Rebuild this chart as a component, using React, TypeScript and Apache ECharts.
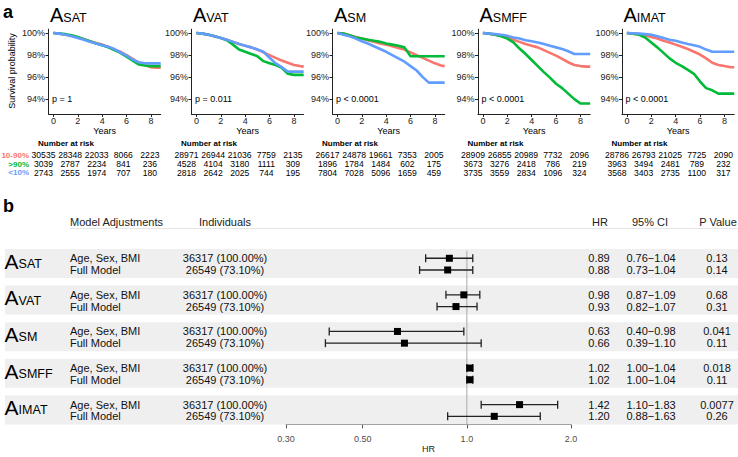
import React, { useEffect, useRef } from 'react';
import * as echarts from 'echarts';

const FONT = '"Liberation Sans", Arial, Helvetica, sans-serif';

// ---------------- Panel a: Kaplan-Meier curves ----------------
const kmTimes = [0, 0.5, 1, 1.5, 2, 2.5, 3, 3.5, 4, 4.5, 5, 5.5, 6, 6.5, 7, 7.5, 8, 8.5, 8.8];
const groupLabels = ['10-90%', '>90%', '<10%'];
const groupColors = ['#F8766D', '#00BA38', '#619CFF'];
const compartments = ['SAT', 'VAT', 'SM', 'SMFF', 'IMAT'];
const logRankP = ['p = 1', 'p = 0.011', 'p < 0.0001', 'p < 0.0001', 'p < 0.0001'];
const survTicks = [94, 96, 98, 100];
const yearTicks = [0, 2, 4, 6, 8];

// survival probability (%) at kmTimes
const satMid = [100, 99.95, 99.85, 99.75, 99.6, 99.45, 99.25, 99.1, 98.95, 98.75, 98.5, 98.3, 98.0, 97.65, 97.3, 97.1, 96.9, 96.85, 96.85];
const satHigh = [100, 99.95, 99.9, 99.8, 99.65, 99.45, 99.25, 99.05, 98.9, 98.7, 98.45, 98.2, 97.85, 97.5, 97.15, 97.05, 97.0, 97.0, 97.0];
const satLow = [100, 99.95, 99.85, 99.7, 99.55, 99.4, 99.2, 99.05, 98.9, 98.75, 98.55, 98.25, 97.95, 97.6, 97.35, 97.25, 97.25, 97.25, 97.25];

const vatMid = [100, 99.95, 99.85, 99.7, 99.55, 99.4, 99.2, 99.0, 98.85, 98.7, 98.5, 98.25, 98.0, 97.75, 97.5, 97.3, 97.1, 97.0, 96.95];
const vatHigh = [100, 99.95, 99.85, 99.7, 99.55, 99.35, 98.95, 98.5, 98.3, 98.1, 97.9, 97.45, 97.25, 97.1, 96.85, 96.3, 96.2, 96.2, 96.2];
const vatLow = [100, 99.95, 99.85, 99.7, 99.55, 99.4, 99.2, 99.0, 98.85, 98.7, 98.5, 98.3, 97.75, 97.25, 96.9, 96.5, 96.5, 96.5, 96.5];

const smMid = [100, 99.95, 99.8, 99.65, 99.5, 99.35, 99.2, 99.05, 98.95, 98.8, 98.65, 98.5, 98.25, 98.0, 97.75, 97.5, 97.25, 97.05, 97.0];
const smHigh = [100, 99.95, 99.8, 99.6, 99.5, 99.4, 99.3, 99.2, 99.05, 98.95, 98.85, 98.7, 97.9, 97.9, 97.9, 97.9, 97.9, 97.9, 97.9];
const smLow = [100, 99.85, 99.7, 99.5, 99.25, 99.05, 98.8, 98.55, 98.3, 98.0, 97.7, 97.4, 97.0, 96.6, 96.0, 95.5, 95.5, 95.5, 95.5];

const smffMid = [100, 99.95, 99.85, 99.75, 99.6, 99.4, 99.2, 99.0, 98.85, 98.7, 98.45, 98.2, 97.95, 97.65, 97.35, 97.1, 97.0, 96.95, 96.95];
const smffHigh = [100, 99.95, 99.85, 99.7, 99.5, 99.15, 98.6, 98.1, 97.55, 97.0, 96.45, 95.95, 95.4, 95.0, 94.5, 94.0, 93.6, 93.6, 93.6];
const smffLow = [100, 99.95, 99.9, 99.85, 99.75, 99.6, 99.5, 99.35, 99.25, 99.15, 99.0, 98.85, 98.7, 98.55, 98.35, 98.1, 98.1, 98.1, 98.1];

const imatMid = [100, 99.95, 99.9, 99.8, 99.65, 99.5, 99.3, 99.15, 98.95, 98.75, 98.55, 98.3, 98.05, 97.7, 97.3, 97.1, 97.0, 96.9, 96.9];
const imatHigh = [100, 99.95, 99.85, 99.6, 99.15, 98.7, 98.2, 97.7, 97.3, 97.0, 96.65, 96.3, 95.6, 95.0, 94.8, 94.5, 94.5, 94.5, 94.5];
const imatLow = [100, 99.98, 99.95, 99.9, 99.85, 99.7, 99.55, 99.4, 99.3, 99.15, 99.0, 98.9, 98.75, 98.5, 98.3, 98.3, 98.3, 98.3, 98.3];

// number at risk at years 0, 2, 4, 6, 8
const riskSat = [[30535, 28348, 22033, 8066, 2223], [3039, 2787, 2234, 841, 236], [2743, 2555, 1974, 707, 180]];
const riskVat = [[28971, 26944, 21036, 7759, 2135], [4528, 4104, 3180, 1111, 309], [2818, 2642, 2025, 744, 195]];
const riskSm = [[26617, 24878, 19661, 7353, 2005], [1896, 1784, 1484, 602, 175], [7804, 7028, 5096, 1659, 459]];
const riskSmff = [[28909, 26855, 20989, 7732, 2096], [3673, 3276, 2418, 786, 219], [3735, 3559, 2834, 1096, 324]];
const riskImat = [[28786, 26793, 21025, 7725, 2090], [3963, 3494, 2481, 789, 232], [3568, 3403, 2735, 1100, 317]];

// ---------------- Panel b: forest plot ----------------
const modelAdjustments = ['Age, Sex, BMI', 'Full Model'];
const individuals = ['36317 (100.00%)', '26549 (73.10%)'];
const hazardRatios = [[0.89, 0.88], [0.98, 0.93], [0.63, 0.66], [1.02, 1.02], [1.42, 1.20]];
const ciLower = [[0.76, 0.73], [0.87, 0.82], [0.40, 0.39], [1.00, 1.00], [1.10, 0.88]];
const ciUpper = [[1.04, 1.04], [1.09, 1.07], [0.98, 1.10], [1.04, 1.04], [1.83, 1.63]];
const pValues = [['0.13', '0.14'], ['0.68', '0.31'], ['0.041', '0.11'], ['0.018', '0.11'], ['0.0077', '0.26']];
const hrTicks = [0.3, 0.5, 1, 2];
const hrTickLabels = ['0.30', '0.50', '1.0', '2.0'];

function buildOption() {
  const survival = [
    [satMid, satHigh, satLow],
    [vatMid, vatHigh, vatLow],
    [smMid, smHigh, smLow],
    [smffMid, smffHigh, smffLow],
    [imatMid, imatHigh, imatLow],
  ];
  const risk = [riskSat, riskVat, riskSm, riskSmff, riskImat];

  const kmLeft = [48.5, 191.5, 332.5, 478, 622];
  const kmTop = 29.2;
  const kmW = 112.2;
  const kmH = 84.8;

  const grids: any[] = [];
  const xAxes: any[] = [];
  const yAxes: any[] = [];
  const series: any[] = [];
  const graphics: any[] = [];

  const axisColor = '#222';

  compartments.forEach((comp, i) => {
    grids.push({ left: kmLeft[i], top: kmTop, width: kmW, height: kmH });
    xAxes.push({
      type: 'value', gridIndex: i, min: -0.4, max: 8.8,
      axisLine: { show: true, onZero: false, lineStyle: { color: axisColor, width: 1 } },
      axisTick: { show: true, length: 3, customValues: yearTicks, lineStyle: { color: axisColor } },
      axisLabel: { customValues: yearTicks, fontSize: 9, color: '#222', margin: 2.5, fontFamily: FONT },
      splitLine: { show: false },
      name: 'Years', nameLocation: 'middle', nameGap: 12,
      nameTextStyle: { fontSize: 9, color: '#000', fontFamily: FONT },
    });
    yAxes.push({
      type: 'value', gridIndex: i, min: 92.65, max: 100.35,
      axisLine: { show: true, onZero: false, lineStyle: { color: axisColor, width: 1 } },
      axisTick: { show: true, length: 3, customValues: survTicks, lineStyle: { color: axisColor } },
      axisLabel: { customValues: survTicks, formatter: (v: number) => `${v}%`, fontSize: 9, color: '#222', margin: 3.5, fontFamily: FONT },
      splitLine: { show: false },
    });
    survival[i].forEach((vals, g) => {
      series.push({
        type: 'line', xAxisIndex: i, yAxisIndex: i, showSymbol: false, symbol: 'none',
        lineStyle: { color: groupColors[g], width: 2.6 }, itemStyle: { color: groupColors[g] },
        data: kmTimes.map((t, k) => [t, vals[k]]), z: 2 + g, silent: true,
      });
    });

    // titles A_sub
    graphics.push({ type: 'text', x: kmLeft[i] + 1.5, y: 15.1, style: { text: 'A', fontSize: 20, fontFamily: FONT, fill: '#000', align: 'left', verticalAlign: 'middle' } });
    graphics.push({ type: 'text', x: kmLeft[i] + 14.8, y: 17.7, style: { text: comp, fontSize: 12.5, fontFamily: FONT, fill: '#000', align: 'left', verticalAlign: 'middle' } });
    // p value
    graphics.push({ type: 'text', x: kmLeft[i] + 3.5, y: 99, style: { text: logRankP[i], fontSize: 9, fontFamily: FONT, fill: '#000', align: 'left', verticalAlign: 'middle' } });

    // number at risk table
    const col0 = kmLeft[i] - 5;
    graphics.push({ type: 'text', x: col0 - 5.5, y: 143.3, style: { text: 'Number at risk', fontSize: 8, fontWeight: 'bold', fontFamily: FONT, fill: '#000', align: 'left', verticalAlign: 'middle' } });
    const rowY = [155.3, 164, 172.7];
    risk[i].forEach((row, g) => {
      row.forEach((n, c) => {
        graphics.push({ type: 'text', x: col0 + c * 26.6, y: rowY[g], style: { text: String(n), fontSize: 8.6, lineHeight: 8.6, fontFamily: FONT, fill: '#000', align: 'center', verticalAlign: 'middle' } });
      });
      if (i === 0) {
        graphics.push({ type: 'text', x: 29, y: rowY[g], style: { text: groupLabels[g], fontSize: 8, lineHeight: 8, fontWeight: 'bold', fontFamily: FONT, fill: groupColors[g], align: 'right', verticalAlign: 'middle' } });
      }
    });
  });

  graphics.push({ type: 'text', x: 3, y: 12, style: { text: 'a', fontSize: 18, fontWeight: 'bold', fontFamily: FONT, fill: '#000', align: 'left', verticalAlign: 'middle' } });
  graphics.push({ type: 'text', x: 12, y: 71, rotation: Math.PI / 2, style: { text: 'Survival probability', fontSize: 9, fontFamily: FONT, fill: '#000', align: 'center', verticalAlign: 'middle' } });

  // ---------------- forest ----------------
  const fi = compartments.length;
  const yMax = 14.38;
  const bandSpan = 2.38;
  grids.push({ left: 286, width: 285, top: 249, height: 175.4 });
  const hrTickLn = hrTicks.map((v) => Math.log(v));
  xAxes.push({
    type: 'value', gridIndex: fi, min: Math.log(0.3), max: Math.log(2),
    axisLine: { show: true, onZero: false, lineStyle: { color: '#555', width: 1 } },
    axisTick: { show: true, length: 4, customValues: hrTickLn, lineStyle: { color: '#555' } },
    axisLabel: {
      customValues: hrTickLn, fontSize: 9, color: '#4D4D4D', margin: 10, fontFamily: FONT,
      formatter: (v: number) => {
        const idx = hrTickLn.findIndex((t) => Math.abs(t - v) < 1e-6);
        return idx >= 0 ? hrTickLabels[idx] : '';
      },
    },
    splitLine: { show: false },
    name: 'HR', nameLocation: 'middle', nameGap: 20,
    nameTextStyle: { fontSize: 9, color: '#222', fontFamily: FONT },
  });
  yAxes.push({ type: 'value', gridIndex: fi, min: 0, max: yMax, inverse: true, show: false });

  const forestRows: any[] = [];
  compartments.forEach((comp, g) => {
    [0, 1].forEach((j) => {
      forestRows.push({
        g, j,
        y: g * 3 + 0.76 + 0.96 * j,
        hr: hazardRatios[g][j], lo: ciLower[g][j], hi: ciUpper[g][j], p: pValues[g][j],
      });
    });
  });

  // background bands
  series.push({
    type: 'custom', xAxisIndex: fi, yAxisIndex: fi, clip: false, silent: true, z: 1,
    data: compartments.map((c, g) => [0, g * 3, g * 3 + bandSpan]),
    encode: { x: 0, y: [1, 2] },
    renderItem: (params: any, api: any) => {
      const t = api.coord([0, api.value(1)])[1];
      const b = api.coord([0, api.value(2)])[1];
      return { type: 'rect', shape: { x: 5, y: t, width: api.getWidth() - 5, height: b - t }, style: { fill: '#EFEFEF' } };
    },
  });
  // reference line at HR = 1
  series.push({
    type: 'line', xAxisIndex: fi, yAxisIndex: fi, showSymbol: false, symbol: 'none', silent: true, z: 3,
    lineStyle: { color: '#AAAAAA', width: 1 }, data: [[0, 0.15], [0, yMax]],
  });
  // group labels
  series.push({
    type: 'custom', xAxisIndex: fi, yAxisIndex: fi, clip: false, silent: true, z: 5,
    data: compartments.map((c, g) => [0, g * 3 + bandSpan / 2]),
    encode: { x: 0, y: 1 },
    renderItem: (params: any, api: any) => {
      const y = api.coord([0, api.value(1)])[1];
      const comp = compartments[params.dataIndex];
      return {
        type: 'group', children: [
          { type: 'text', x: 4.5, y: y - 2.2, style: { text: 'A', fontSize: 21, fontFamily: FONT, fill: '#000', align: 'left', verticalAlign: 'middle' } },
          { type: 'text', x: 18.6, y: y + 0.5, style: { text: comp, fontSize: 12.5, fontFamily: FONT, fill: '#000', align: 'left', verticalAlign: 'middle' } },
        ],
      };
    },
  });
  // row texts
  series.push({
    type: 'custom', xAxisIndex: fi, yAxisIndex: fi, clip: false, silent: true, z: 5,
    data: forestRows.map((r) => [0, r.y]),
    encode: { x: 0, y: 1 },
    renderItem: (params: any, api: any) => {
      const r = forestRows[params.dataIndex];
      const y = api.coord([0, api.value(1)])[1];
      const st = (text: string, align: string) => ({ text, fontSize: 11, lineHeight: 11, fontFamily: FONT, fill: '#111', align, verticalAlign: 'middle' });
      return {
        type: 'group', children: [
          { type: 'text', x: 70, y, style: st(modelAdjustments[r.j], 'left') },
          { type: 'text', x: 225, y, style: st(individuals[r.j], 'center') },
          { type: 'text', x: 599, y, style: st(r.hr.toFixed(2), 'center') },
          { type: 'text', x: 651, y, style: st(`${r.lo.toFixed(2)}\u2212${r.hi.toFixed(2)}`, 'center') },
          { type: 'text', x: 717, y, style: st(r.p, 'center') },
        ],
      };
    },
  });
  // HR estimates with CI
  series.push({
    type: 'custom', xAxisIndex: fi, yAxisIndex: fi, clip: false, silent: true, z: 6,
    data: forestRows.map((r) => [Math.log(r.hr), Math.log(r.lo), Math.log(r.hi), r.y]),
    encode: { x: [0, 1, 2], y: 3 },
    renderItem: (params: any, api: any) => {
      const yv = api.value(3);
      const c = api.coord([api.value(0), yv]);
      const lo = api.coord([api.value(1), yv]);
      const hi = api.coord([api.value(2), yv]);
      const cap = 4;
      const ls = { stroke: '#222', lineWidth: 1.3 };
      return {
        type: 'group', children: [
          { type: 'line', shape: { x1: lo[0], y1: c[1], x2: hi[0], y2: c[1] }, style: ls },
          { type: 'line', shape: { x1: lo[0], y1: c[1] - cap, x2: lo[0], y2: c[1] + cap }, style: ls },
          { type: 'line', shape: { x1: hi[0], y1: c[1] - cap, x2: hi[0], y2: c[1] + cap }, style: ls },
          { type: 'rect', shape: { x: c[0] - 3.5, y: c[1] - 3.5, width: 7, height: 7 }, style: { fill: '#000' } },
        ],
      };
    },
  });

  // headers of panel b
  graphics.push({ type: 'text', x: 3, y: 205.5, style: { text: 'b', fontSize: 18, fontWeight: 'bold', fontFamily: FONT, fill: '#000', align: 'left', verticalAlign: 'middle' } });
  const hdr = (text: string, x: number, align: string) => ({ type: 'text', x, y: 222, style: { text, fontSize: 11, fontFamily: FONT, fill: '#222', align, verticalAlign: 'middle' } });
  graphics.push(hdr('Model Adjustments', 70, 'left'));
  graphics.push(hdr('Individuals', 225, 'center'));
  graphics.push(hdr('HR', 600, 'center'));
  graphics.push(hdr('95% CI', 650, 'center'));
  graphics.push(hdr('P Value', 718, 'center'));
  graphics.push({ type: 'line', shape: { x1: 70, y1: 228.5, x2: 738, y2: 228.5 }, style: { stroke: '#E6E6E6', lineWidth: 1 } });

  return {
    animation: false,
    backgroundColor: '#fff',
    textStyle: { fontFamily: FONT },
    grid: grids,
    xAxis: xAxes,
    yAxis: yAxes,
    series,
    graphic: { elements: graphics },
  };
}

export default function App() {
  const ref = useRef<HTMLDivElement>(null);
  useEffect(() => {
    if (!ref.current) return;
    const chart = echarts.init(ref.current, null, { renderer: 'svg' });
    chart.setOption(buildOption() as any);
    return () => chart.dispose();
  }, []);
  return (
    <div
      ref={ref}
      style={{ position: 'fixed', left: 0, top: 0, width: 738, height: 457, background: '#fff' }}
    />
  );
}
